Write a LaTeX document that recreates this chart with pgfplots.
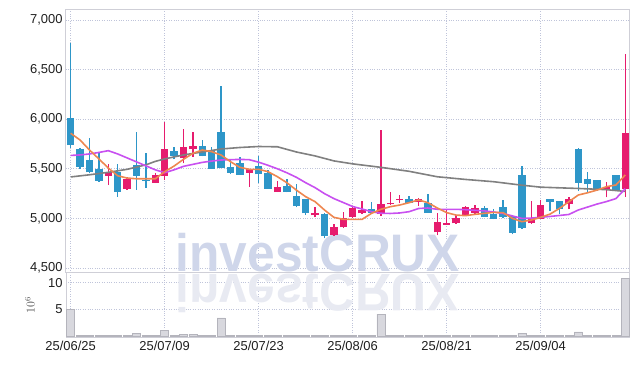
\documentclass[border=0pt]{standalone}
\usepackage{fontspec}
\setmainfont{Liberation Sans}
\usepackage{pgfplots}
\usepackage{pgfplotstable}
\pgfplotsset{compat=1.18}
\definecolor{upc}{HTML}{E61C6E}
\definecolor{dnc}{HTML}{2E96C8}
\definecolor{ma5}{HTML}{EE8750}
\definecolor{ma20}{HTML}{C850F0}
\definecolor{ma60}{HTML}{808080}
\definecolor{gridc}{HTML}{BFC4DA}
\definecolor{framec}{HTML}{CFCFD7}
\definecolor{volfill}{HTML}{D8D8DE}
\definecolor{voledge}{HTML}{B4B4BC}
\definecolor{wmc}{HTML}{CFD6EA}
\definecolor{wmr}{HTML}{E8EAF2}

\pgfplotstableread{
i o h l c
0 6010 6770 5710 5740
1 5700 5705 5500 5520
2 5590 5810 5455 5465
3 5500 5660 5370 5380
5 5465 5550 5220 5270
7 5540 5870 5290 5430
8 5392 5660 5310 5378
11 5683 5725 5595 5630
14 5730 5790 5625 5630
15 5683 5723 5500 5501
16 5875 6335 5505 5511
17 5515 5596 5448 5460
18 5555 5622 5440 5441
20 5528 5630 5355 5444
21 5461 5490 5300 5300
23 5327 5395 5262 5266
24 5226 5344 5112 5125
25 5192 5200 5035 5050
27 5044 5050 4800 4822
32 5098 5165 5048 5051
36 5196 5230 5155 5159
38 5159 5246 5055 5058
44 5101 5125 5015 5017
45 5041 5092 4990 4994
46 5112 5186 5000 5017
47 5024 5030 4840 4856
48 5438 5528 4895 4900
51 5196 5200 5078 5169
52 5176 5180 5044 5095
54 5700 5705 5280 5360
55 5397 5465 5253 5347
56 5387 5390 5280 5286
58 5438 5440 5280 5286
}\dnT

\pgfplotstableread{
i o h l c
4 5430 5550 5340 5470
6 5295 5420 5290 5400
9 5360 5460 5355 5440
10 5430 5970 5385 5700
12 5606 5900 5555 5716
13 5697 5868 5622 5730
19 5461 5500 5320 5495
22 5266 5380 5265 5313
26 5031 5112 5011 5058
28 4830 4944 4825 4910
29 4910 5060 4905 5000
30 5011 5125 5005 5105
31 5051 5176 5044 5085
33 5044 5890 5024 5142
34 5142 5270 5140 5159
35 5184 5233 5152 5198
37 5165 5210 5125 5192
39 4860 5051 4830 4967
40 4937 5100 4935 4957
41 4950 5034 4948 5004
42 5028 5125 5025 5118
43 5058 5132 5044 5101
49 4950 5180 4945 5000
50 4993 5186 4990 5135
53 5142 5213 5092 5196
57 5297 5370 5213 5320
59 5293 6655 5220 5858
}\upT

\pgfplotstableread{
i v
0 5858
1 5790
2 5690
3 5600
4 5508
5 5430
6 5407
7 5400
8 5400
9 5400
10 5471
11 5528
12 5596
13 5656
14 5690
15 5673
16 5639
17 5572
18 5515
19 5495
20 5495
21 5471
22 5420
23 5360
24 5286
25 5219
26 5169
27 5085
28 5011
29 4991
30 4991
31 4991
32 5051
33 5092
34 5118
35 5135
36 5159
37 5186
38 5159
39 5105
40 5058
41 5034
42 5028
43 5041
44 5051
45 5061
46 5058
47 5000
48 4967
49 4984
50 5011
51 5044
52 5101
53 5169
54 5236
55 5259
56 5286
57 5320
58 5337
59 5438
}\maA

\pgfplotstableread{
i v
0 5635
1 5640
2 5650
3 5665
4 5683
5 5650
6 5610
7 5570
8 5530
9 5490
10 5461
11 5490
12 5525
13 5545
14 5565
15 5578
16 5589
17 5592
18 5595
19 5592
20 5567
21 5535
22 5500
23 5460
24 5415
25 5360
26 5310
27 5250
28 5200
29 5160
30 5120
31 5095
32 5068
33 5052
34 5050
35 5055
36 5068
37 5100
38 5105
39 5092
40 5092
41 5092
42 5088
43 5082
44 5076
45 5065
46 5050
47 5025
48 5000
49 5003
50 5011
51 5020
52 5030
53 5040
54 5085
55 5115
56 5145
57 5170
58 5200
59 5300
}\maB

\pgfplotstableread{
i v
0 5418
2 5440
4 5465
6 5495
8 5540
9 5575
10 5600
12 5640
14 5670
16 5700
18 5715
20 5725
22 5722
24 5670
26 5630
28 5580
30 5550
33 5515
36 5475
39 5420
42 5393
45 5370
48 5335
50 5315
54 5302
57 5290
59 5272
}\maC

\pgfplotstableread{
i v
0 5.0
1 0.15
2 0.12
3 0.1
4 0.06
5 0.06
6 0.05
7 0.45
8 0.12
9 0.06
10 1.1
11 0.12
12 0.28
13 0.28
14 0.12
15 0.12
16 3.4
17 0.12
18 0.1
19 0.1
20 0.08
21 0.06
22 0.05
23 0.06
24 0.15
25 0.06
26 0.05
27 0.06
28 0.05
29 0.05
30 0.05
31 0.05
32 0.05
33 4.1
34 0.15
35 0.12
36 0.05
37 0.05
38 0.05
39 0.05
40 0.05
41 0.04
42 0.04
43 0.04
44 0.04
45 0.04
46 0.04
47 0.05
48 0.55
49 0.12
50 0.05
51 0.04
52 0.04
53 0.04
54 0.75
55 0.15
56 0.05
57 0.05
58 0.05
59 10.8
}\volT

\pgfplotsset{
  common/.style={
    scale only axis, width=564bp,
    xmin=-0.5, xmax=59.5,
    xtick={0,10,20,30,40,50},
    grid=major,
    grid style={dotted, line width=0.8bp, color=gridc},
    axis line style={draw=framec, line width=1bp},
    major tick length=0pt,
    tick label style={font=\fontsize{13}{14}\selectfont, text=black!88},
    /pgf/number format/assume math mode=true,
    /pgf/number format/1000 sep={,},
    scaled ticks=false,
  },
  candle/.style 2 args={draw=none, mark=none, forget plot,
    error bars/.cd, y dir=plus, y explicit, error mark=none,
    error bar style={draw=#1, line width=#2}},
}

\begin{document}
\begin{tikzpicture}
\path[use as bounding box] (-66bp,-93.7bp) rectangle (573bp,272.3bp);
\begin{axis}[common, at={(0,0)}, anchor=south west, height=263bp,
  ymin=4457, ymax=7108, ytick={4500,5000,5500,6000,6500,7000},
  xticklabels={}]
  \node[anchor=base, font=\fontsize{53}{53}\selectfont\bfseries, text=wmc, xscale=0.94] at (axis cs:26.3,4470) {investCRUX};
  % wicks
  \addplot[candle={dnc}{1.3bp}]
    table[x=i, y=l, y error plus expr=\thisrow{h}-\thisrow{l}] {\dnT};
  \addplot[candle={upc}{1.3bp}]
    table[x=i, y=l, y error plus expr=\thisrow{h}-\thisrow{l}] {\upT};
  % bodies
  \addplot[candle={dnc}{7.5bp}]
    table[x=i, y=c, y error plus expr=\thisrow{o}-\thisrow{c}] {\dnT};
  \addplot[candle={upc}{7.5bp}]
    table[x=i, y=o, y error plus expr=\thisrow{c}-\thisrow{o}] {\upT};
  % moving averages
  \addplot[ma60, line width=1.6bp, no marks] table[x=i, y=v] {\maC};
  \addplot[ma20, line width=1.6bp, no marks] table[x=i, y=v] {\maB};
  \addplot[ma5, line width=1.6bp, no marks] table[x=i, y=v] {\maA};
\end{axis}
\begin{axis}[common, at={(0,0)}, anchor=north west, height=65bp,
  ymin=-0.25, ymax=11.95, ytick={5,10},
  xticklabels={25/06/25,25/07/09,25/07/23,25/08/06,25/08/21,25/09/04},
  ylabel={$10^6$},
  ylabel style={at={(axis description cs:-0.064,0.5)}, anchor=center, font=\fontsize{12}{12}\selectfont, text=black!70}]
  \node[anchor=base, font=\fontsize{53}{53}\selectfont\bfseries, text=wmr, xscale=0.94, yscale=-1] at (axis cs:26.3,11.6) {investCRUX};
  \addplot[ybar, bar width=8bp, fill=volfill, draw=voledge, line width=0.6bp] table[x=i, y=v] {\volT};
\end{axis}
\end{tikzpicture}
\end{document}
